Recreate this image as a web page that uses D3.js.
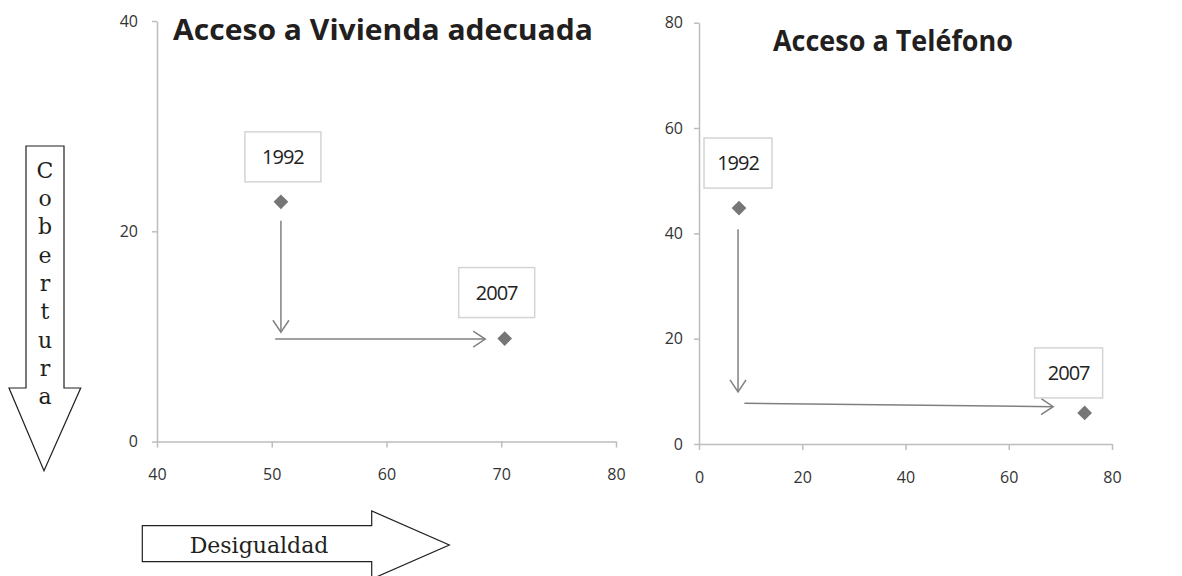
<!DOCTYPE html>
<html>
<head>
<meta charset="utf-8">
<script src="https://cdn.jsdelivr.net/npm/d3@7"></script>
<style>
  body { margin: 0; background: #fff; }
  svg { display: block; }
  .tick text { font-family: "Open Sans", sans-serif; fill: #333; font-size: 16px; }
</style>
</head>
<body>
<div class="svgContainer"></div>
<script>
// Data
var YEARS = ["1992", "2007"];

// Vivienda adecuada: x = desigualdad, y = cobertura
var viviendaX = [50.8, 70.3];
var viviendaY = [22.8, 9.8];
var viviendaXTicks = [40, 50, 60, 70, 80];
var viviendaYTicks = [0, 20, 40];
// arrows [x1, y1, x2, y2] in data units
var viviendaArrows = [[50.8, 21.0, 50.8, 10.4], [50.3, 9.75, 68.6, 9.75]];

// Telefono
var telefonoX = [7.75, 74.7];
var telefonoY = [44.8, 5.9];
var telefonoXTicks = [0, 20, 40, 60, 80];
var telefonoYTicks = [0, 20, 40, 60, 80];
var telefonoArrows = [[7.56, 40.8, 7.56, 9.9], [8.8, 7.73, 68.6, 7.08]];

var COBERTURA = "Cobertura".split("");

var W = 1182, H = 576;

var svg = d3.select(".svgContainer").append("svg")
    .attr("width", W)
    .attr("height", H);

var defs = svg.append("defs");
defs.append("marker")
    .attr("id", "vhead")
    .attr("markerUnits", "userSpaceOnUse")
    .attr("viewBox", "-14 -10 16 20")
    .attr("markerWidth", 16)
    .attr("markerHeight", 20)
    .attr("refX", 0)
    .attr("refY", 0)
    .attr("orient", "auto")
    .append("path")
    .attr("d", "M-12,-8L0,0L-12,8")
    .attr("fill", "none")
    .attr("stroke", "#808080")
    .attr("stroke-width", 1.5);

function drawChart(cfg) {
    var g = svg.append("g");
    var x = d3.scaleLinear().domain(cfg.xDomain).range(cfg.xRange);
    var y = d3.scaleLinear().domain(cfg.yDomain).range(cfg.yRange);

    // axes
    var xAxis = g.append("g")
        .attr("transform", "translate(0," + cfg.yRange[0] + ")")
        .call(d3.axisBottom(x).tickValues(cfg.xTicks).tickSize(6).tickSizeOuter(0).tickPadding(cfg.xPad));
    var yAxis = g.append("g")
        .attr("transform", "translate(" + cfg.xRange[0] + ",0)")
        .call(d3.axisLeft(y).tickValues(cfg.yTicks).tickSize(5).tickSizeOuter(0).tickPadding(cfg.yPad));
    [xAxis, yAxis].forEach(function(a) {
        a.attr("font-size", null).attr("font-family", null);
        a.select(".domain").attr("stroke", "#bdbdbd").attr("stroke-width", 1.5);
        a.selectAll(".tick line").attr("stroke", "#bdbdbd").attr("stroke-width", 1.5);
    });

    // title
    g.append("text")
        .attr("x", cfg.titleX)
        .attr("y", cfg.titleY)
        .attr("font-family", "'Open Sans', sans-serif")
        .attr("font-weight", "bold")
        .attr("font-size", 29)
        .attr("fill", "#231f20")
        .attr("textLength", cfg.titleW)
        .attr("lengthAdjust", "spacingAndGlyphs")
        .text(cfg.title);

    // arrows
    g.selectAll("line.arrow")
        .data(cfg.arrows)
        .enter().append("line")
        .attr("class", "arrow")
        .attr("x1", function(d) { return x(d[0]); })
        .attr("y1", function(d) { return y(d[1]); })
        .attr("x2", function(d) { return x(d[2]); })
        .attr("y2", function(d) { return y(d[3]); })
        .attr("stroke", "#808080")
        .attr("stroke-width", 1.5)
        .attr("marker-end", "url(#vhead)");

    var pts = cfg.xs.map(function(v, i) { return {x: v, y: cfg.ys[i], year: YEARS[i], box: cfg.boxes[i]}; });

    // label boxes
    var lab = g.selectAll("g.lab")
        .data(pts)
        .enter().append("g")
        .attr("class", "lab")
        .attr("transform", function(d) { return "translate(" + (x(d.x) + d.box[0]) + "," + (y(d.y) - d.box[1]) + ")"; });
    lab.append("rect")
        .attr("x", function(d) { return -d.box[2] / 2; })
        .attr("y", function(d) { return -d.box[3]; })
        .attr("width", function(d) { return d.box[2]; })
        .attr("height", function(d) { return d.box[3]; })
        .attr("fill", "#fff")
        .attr("stroke", "#d4d4d4")
        .attr("stroke-width", 1.5);
    lab.append("text")
        .attr("x", 0)
        .attr("y", function(d) { return -d.box[3] / 2 + 7; })
        .attr("text-anchor", "middle")
        .attr("font-family", "'Open Sans', sans-serif")
        .attr("font-size", 20)
        .attr("letter-spacing", -1)
        .attr("fill", "#222")
        .text(function(d) { return d.year; });

    // diamonds
    g.selectAll("path.pt")
        .data(pts)
        .enter().append("path")
        .attr("class", "pt")
        .attr("d", d3.symbol().type(d3.symbolSquare).size(108))
        .attr("transform", function(d) { return "translate(" + x(d.x) + "," + y(d.y) + ") rotate(45)"; })
        .attr("fill", "#767676");
}

drawChart({
    title: "Acceso a Vivienda adecuada", titleX: 173, titleY: 40, titleW: 420,
    xDomain: [40, 80], xRange: [157, 616],
    yDomain: [0, 40], yRange: [441.6, 21],
    xTicks: viviendaXTicks, yTicks: viviendaYTicks, xPad: 21, yPad: 14,
    xs: viviendaX, ys: viviendaY, arrows: viviendaArrows,
    // box: [dx of centre, gap above point, width, height]
    boxes: [[2, 20, 76, 50], [-8, 21, 76, 50]]
});

drawChart({
    title: "Acceso a Teléfono", titleX: 773, titleY: 51, titleW: 240,
    xDomain: [0, 80], xRange: [699, 1112],
    yDomain: [0, 80], yRange: [444, 22.7],
    xTicks: telefonoXTicks, yTicks: telefonoYTicks, xPad: 22, yPad: 11,
    xs: telefonoX, ys: telefonoY, arrows: telefonoArrows,
    boxes: [[-1, 20, 68, 50], [-16, 15, 68, 50]]
});

// Big block arrows
svg.append("path")
    .attr("d", "M26,146H64V388H80.7L44,470.7L9,388H26Z")
    .attr("fill", "#fff")
    .attr("stroke", "#231f20")
    .attr("stroke-width", 1.2);

svg.selectAll("text.cob")
    .data(COBERTURA)
    .enter().append("text")
    .attr("class", "cob")
    .attr("x", 45)
    .attr("y", function(d, i) { return 177.7 + i * 28.3; })
    .attr("text-anchor", "middle")
    .attr("font-family", "'DejaVu Serif', serif")
    .attr("font-size", 22)
    .attr("fill", "#231f20")
    .text(function(d) { return d; });

svg.append("path")
    .attr("d", "M142.3,525.7H371.7V511L449.3,545L371.7,579V561.7H142.3Z")
    .attr("fill", "#fff")
    .attr("stroke", "#231f20")
    .attr("stroke-width", 1.2);

svg.append("text")
    .attr("x", 259)
    .attr("y", 553.3)
    .attr("text-anchor", "middle")
    .attr("font-family", "'DejaVu Serif', serif")
    .attr("font-size", 22)
    .attr("fill", "#231f20")
    .text("Desigualdad");
</script>
</body>
</html>
